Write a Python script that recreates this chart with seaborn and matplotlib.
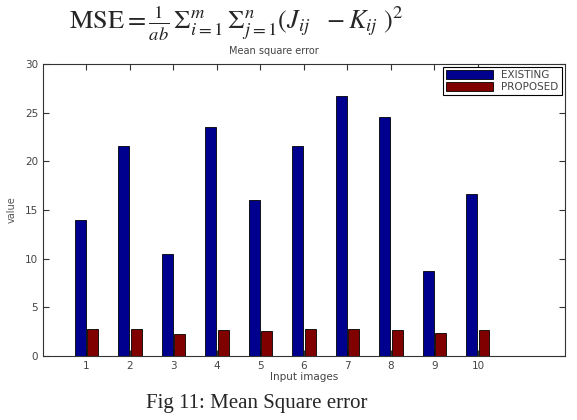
import pandas as pd
import matplotlib
matplotlib.use("Agg")
import matplotlib.pyplot as plt
import seaborn as sns

# Data
images = ["1", "2", "3", "4", "5", "6", "7", "8", "9", "10"]
existing = [14.0, 21.6, 10.45, 23.5, 16.0, 21.55, 26.7, 24.5, 8.7, 16.65]
proposed = [2.77, 2.77, 2.32, 2.67, 2.6, 2.8, 2.8, 2.67, 2.33, 2.67]
series_names = ["EXISTING", "PROPOSED"]

df = pd.DataFrame({
    "image": images * 2,
    "value": existing + proposed,
    "method": [series_names[0]] * len(images) + [series_names[1]] * len(images),
})

sns.set_theme(style="ticks")
plt.rcParams["font.family"] = ["DejaVu Sans"]
plt.rcParams["mathtext.fontset"] = "stix"

fig = plt.figure(figsize=(5.77, 4.20), dpi=100)
ax = fig.add_axes([0.0745, 0.152, 0.9045, 0.696])

sns.barplot(
    data=df, x="image", y="value", hue="method", order=images,
    palette=["#00008f", "#800000"], width=0.57, gap=0.13,
    edgecolor="black", linewidth=0.6, saturation=1, ax=ax,
)

ax.set_xlim(-1, 11)
ax.set_ylim(0, 30)
ax.set_yticks(range(0, 31, 5))
ax.tick_params(direction="in", top=True, right=True, length=4, width=0.8,
               labelsize=7.5, labelcolor="#444444", colors="#333333")
ax.tick_params(axis="y", labelright=False)
for s in ax.spines.values():
    s.set_visible(True)
    s.set_color("#333333")
    s.set_linewidth(0.8)

ax.set_xlabel("Input images", fontsize=7.5, color="#444444", labelpad=1)
ax.set_ylabel("value", fontsize=7, color="#555555", labelpad=6)

leg = ax.legend(loc="upper right", fontsize=7.5, handlelength=4.5, handleheight=0.9,
                fancybox=False, edgecolor="black", framealpha=1,
                borderaxespad=0.3, labelspacing=0.2, borderpad=0.3)
leg.get_frame().set_linewidth(0.8)
for t in leg.get_texts():
    t.set_color("#444444")

fig.text(0.475, 0.878, "Mean square error", ha="center", va="center",
         fontsize=7, color="#444444")
fig.text(0.409, 0.945,
         r"$\mathrm{MSE} = \frac{1}{ab}\,\Sigma_{i=1}^{m}\,\Sigma_{j=1}^{n}(J_{ij}\ \ - K_{ij}\ )^2$",
         ha="center", va="center", fontsize=19)
fig.text(0.445, 0.04, "Fig 11: Mean Square error", ha="center", va="center",
         fontsize=15, family=["Liberation Serif"])

fig.savefig("out.png", dpi=100)
